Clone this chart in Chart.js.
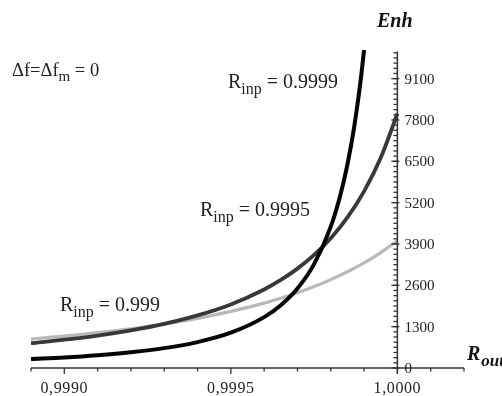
<!DOCTYPE html>
<html>
<head>
<meta charset="utf-8">
<script src="https://cdn.jsdelivr.net/npm/chart.js@4/dist/chart.umd.min.js"></script>
<style>
  html, body { margin: 0; padding: 0; background: #ffffff; }
  #wrap { width: 502px; height: 396px; position: relative; }
</style>
</head>
<body>
<div id="wrap"><canvas id="c" width="502" height="396"></canvas></div>
<script>
// ---- data ----
const rOut = [0.99890, 0.99900, 0.99910, 0.99920, 0.99930, 0.99940, 0.99950, 0.99960,
              0.99965, 0.99970, 0.99975, 0.99980, 0.99985, 0.99990, 0.99995, 1.00000];
const enhRinp0999  = [910, 1000, 1110, 1235, 1385, 1560, 1780, 2040,
                      2195, 2365, 2560, 2780, 3025, 3305, 3630, 4000];
const enhRinp09995 = [780, 890, 1020, 1185, 1390, 1655, 2000, 2470,
                      2770, 3125, 3555, 4080, 4735, 5555, 6610, 8000];
const rOutB = [0.99890, 0.99900, 0.99910, 0.99920, 0.99930, 0.99940, 0.99950, 0.99960,
               0.99965, 0.99970, 0.99975, 0.99980, 0.99983, 0.99985, 0.99987, 0.99989, 0.99990];
const enhRinp09999 = [280, 330, 400, 495, 625, 815, 1110, 1600,
                      1975, 2500, 3265, 4445, 5490, 6400, 7560, 9070, 10000];

const seriesNames = ['Rinp = 0.9999', 'Rinp = 0.9995', 'Rinp = 0.999'];

const xMajorTicks = [0.9990, 0.9995, 1.0000];
const xTickLabels = ['0,9990', '0,9995', '1,0000'];
const xMinorTicks = [0.9989, 0.9991, 0.9992, 0.9993, 0.9994, 0.9996, 0.9997, 0.9998, 0.9999, 1.0001, 1.0002];
const yMajorTicks = [0, 1300, 2600, 3900, 5200, 6500, 7800, 9100];
const yTickLabels = ['0', '1300', '2600', '3900', '5200', '6500', '7800', '9100'];
const yMinorStep = 162.5;

const toPts = (xs, ys) => xs.map((x, i) => ({ x: x, y: ys[i] }));

const SERIF = '"Liberation Serif", "DejaVu Serif", serif';

const axesPlugin = {
  id: 'axesPlugin',
  afterDraw(chart) {
    const ctx = chart.ctx;
    const xs = chart.scales.x, ys = chart.scales.y;
    const y0 = ys.getPixelForValue(0);
    const x1 = xs.getPixelForValue(1.0);
    ctx.save();
    ctx.strokeStyle = '#333333';
    ctx.fillStyle = '#222222';
    ctx.lineWidth = 1.5;
    // x axis line
    ctx.beginPath();
    ctx.moveTo(xs.getPixelForValue(xs.min), y0);
    ctx.lineTo(xs.getPixelForValue(xs.max), y0);
    ctx.stroke();
    // y axis line
    ctx.beginPath();
    ctx.moveTo(x1, y0 + 5);
    ctx.lineTo(x1, ys.getPixelForValue(9950));
    ctx.stroke();
    // x ticks
    ctx.lineWidth = 1.3;
    xMinorTicks.forEach(v => {
      const p = xs.getPixelForValue(v);
      ctx.beginPath(); ctx.moveTo(p, y0); ctx.lineTo(p, y0 + 3.5); ctx.stroke();
    });
    xMajorTicks.forEach(v => {
      const p = xs.getPixelForValue(v);
      ctx.beginPath(); ctx.moveTo(p, y0); ctx.lineTo(p, y0 + 6); ctx.stroke();
    });
    // y ticks
    for (let v = yMinorStep; v < 9950; v += yMinorStep) {
      const p = ys.getPixelForValue(v);
      ctx.beginPath(); ctx.moveTo(x1 - 4, p); ctx.lineTo(x1, p); ctx.stroke();
    }
    yMajorTicks.forEach(v => {
      const p = ys.getPixelForValue(v);
      ctx.beginPath(); ctx.moveTo(x1 - 6, p); ctx.lineTo(x1 + 2, p); ctx.stroke();
    });
    // tick labels
    ctx.font = '16px ' + SERIF;
    ctx.textAlign = 'center';
    ctx.textBaseline = 'alphabetic';
    ctx.letterSpacing = '0.6px';
    xMajorTicks.forEach((v, i) => {
      ctx.fillText(xTickLabels[i], xs.getPixelForValue(v), 393);
    });
    ctx.letterSpacing = '0px';
    ctx.font = '15px ' + SERIF;
    ctx.textAlign = 'left';
    ctx.textBaseline = 'middle';
    yMajorTicks.forEach((v, i) => {
      ctx.fillText(yTickLabels[i], x1 + 7, ys.getPixelForValue(v) + 1);
    });

    // axis titles
    ctx.textBaseline = 'alphabetic';
    ctx.fillStyle = '#111111';
    ctx.font = 'italic bold 20px ' + SERIF;
    ctx.fillText('Enh', 377, 27);
    ctx.fillText('R', 467, 360);
    const rw = ctx.measureText('R').width;
    ctx.font = 'italic bold 17px ' + SERIF;
    ctx.fillText('out', 467 + rw + 1, 366);

    // annotations with subscripts
    const sub = (base, subTxt, rest, x, y, size, subSize, dy) => {
      ctx.font = size + 'px ' + SERIF;
      ctx.fillText(base, x, y);
      let cx = x + ctx.measureText(base).width;
      ctx.font = subSize + 'px ' + SERIF;
      ctx.fillText(subTxt, cx, y + dy);
      cx += ctx.measureText(subTxt).width;
      ctx.font = size + 'px ' + SERIF;
      ctx.fillText(rest, cx, y);
    };
    ctx.fillStyle = '#222222';
    sub('\u0394f=\u0394f', 'm', ' = 0', 12, 76, 18.5, 15, 5);
    sub('R', 'inp', ' = 0.9999', 228, 88, 20, 16, 6);
    sub('R', 'inp', ' = 0.9995', 200, 216, 20, 16, 6);
    sub('R', 'inp', ' = 0.999', 60, 311, 20, 16, 6);
    ctx.restore();
  }
};

new Chart(document.getElementById('c'), {
  type: 'line',
  data: {
    datasets: [
      { label: seriesNames[0], data: toPts(rOutB, enhRinp09999), borderColor: '#050505', borderWidth: 4, order: 0 },
      { label: seriesNames[1], data: toPts(rOut, enhRinp09995), borderColor: '#383838', borderWidth: 3.8, order: 1 },
      { label: seriesNames[2], data: toPts(rOut, enhRinp0999), borderColor: '#b8b8b8', borderWidth: 3.2, order: 2 }
    ]
  },
  options: {
    responsive: false,
    animation: false,
    devicePixelRatio: 1,
    layout: { padding: { left: 31, right: 38, top: 50, bottom: 28 } },
    elements: {
      point: { radius: 0 },
      line: { cubicInterpolationMode: 'monotone', fill: false, borderCapStyle: 'butt' }
    },
    plugins: { legend: { display: false }, tooltip: { enabled: false } },
    scales: {
      x: { type: 'linear', min: 0.9989, max: 1.0002, display: false },
      y: { type: 'linear', min: 0, max: 10000, display: false }
    }
  },
  plugins: [axesPlugin]
});
</script>
</body>
</html>
